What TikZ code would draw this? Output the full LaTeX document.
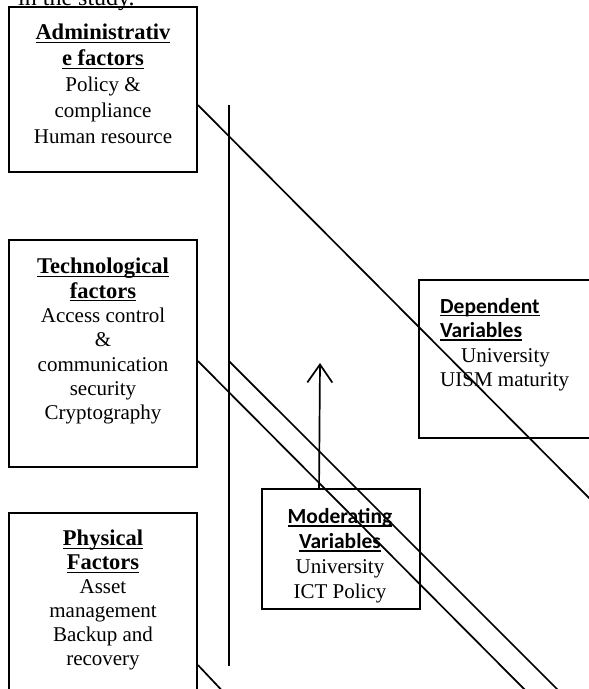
\documentclass[tikz,border=0pt]{standalone}
\usepackage{fontspec}
\setmainfont{Liberation Serif}
\newfontfamily\calfont{Carlito}
\usetikzlibrary{arrows.meta,calc}
\newcommand\myul[1]{\setbox0\hbox{#1}\rlap{\rule[-3.2pt]{\wd0}{1.5pt}}\box0}
\newcommand\hsf{\fontsize{22.5}{26}\selectfont\bfseries}
\newcommand\bdf{\fontsize{21}{26}\selectfont\mdseries}
\newcommand\hcal{\fontsize{21.5}{25}\selectfont\calfont\bfseries}
\begin{document}
\begin{tikzpicture}[x=1pt,y=-1pt,
  box/.style={draw,line width=1.9pt,inner sep=0pt},
  txt/.style={inner sep=0pt,align=center,anchor=north},
  ln/.style={line width=1.7pt}]
\useasboundingbox (0,0) rectangle (589,689);
\clip (0,0) rectangle (589,689);
% caption fragment
\node[inner sep=0pt,anchor=base west,font=\fontsize{24}{28}\selectfont] (cap) at (18,5) {in the study.};
% boxes
\node[box,minimum width=188pt,minimum height=165pt] (adm) at (103,89.5) {};
\node[box,minimum width=188pt,minimum height=227pt] (tec) at (103,353.5) {};
\node[box,minimum width=188pt,minimum height=207pt] (phy) at (103,616.5) {};
\node[box,minimum width=191pt,minimum height=158pt] (dep) at (514.5,359) {};
\node[box,minimum width=158pt,minimum height=120pt] (mod) at (341,549) {};
% texts
\node[txt,font=\bdf] (admt) at (103,24) {\hsf\myul{Administrativ}\\\hsf\myul{e factors}\\\bdf Policy \&\\\bdf compliance\\\bdf Human resource};
\node[txt,font=\fontsize{21}{24.3}\selectfont] (tect) at (103,258) {\hsf\myul{Technological}\\\hsf\myul{factors}\\\bdf Access control\\\bdf \&\\\bdf communication\\\bdf security\\\bdf Cryptography};
\node[txt,font=\fontsize{21}{24}\selectfont] (phyt) at (103,530) {\hsf\myul{Physical}\\\hsf\myul{Factors}\\\bdf Asset\\\bdf management\\\bdf Backup and\\\bdf recovery};
\node[inner sep=0pt,align=left,anchor=north west,font=\fontsize{21}{24.5}\selectfont] (dept) at (440,298) {\hcal\myul{Dependent}\\\hcal\myul{Variables}\\\bdf\hspace*{21pt}University\\\bdf UISM maturity};
\node[txt,font=\fontsize{21}{25}\selectfont] (modt) at (340,508) {\hcal\myul{Moderating}\\\hcal\myul{Variables}\\\bdf University\\\bdf ICT Policy};
% vertical line
\coordinate (va) at (229,105);
\coordinate (vb) at (229,666);
\draw[ln] (va) -- (vb);
% diagonal connectors
\coordinate (a0) at ($(adm.north east)+(0,99)$);
\coordinate (a1) at (603,512);
\draw[ln] (a0) -- (a1);
\coordinate (t0) at ($(tec.north east)+(0,122)$);
\coordinate (t1) at (535,700);
\draw[ln] (t0) -- (t1);
\coordinate (t2) at (va |- t0);
\coordinate (t3) at (570,702);
\draw[ln] (t2) -- (t3);
\coordinate (p0) at ($(phy.north east)+(0,153)$);
\coordinate (p1) at (230,699);
\draw[ln] (p0) -- (p1);
% arrow
\coordinate (m0) at ($(mod.north west)+(58,0)$);
\coordinate (m1) at (320,363);
\draw[ln,-{Straight Barb[length=18pt,width=25pt,line width=1.7pt]}] (m0) -- (m1);
\end{tikzpicture}
\end{document}
